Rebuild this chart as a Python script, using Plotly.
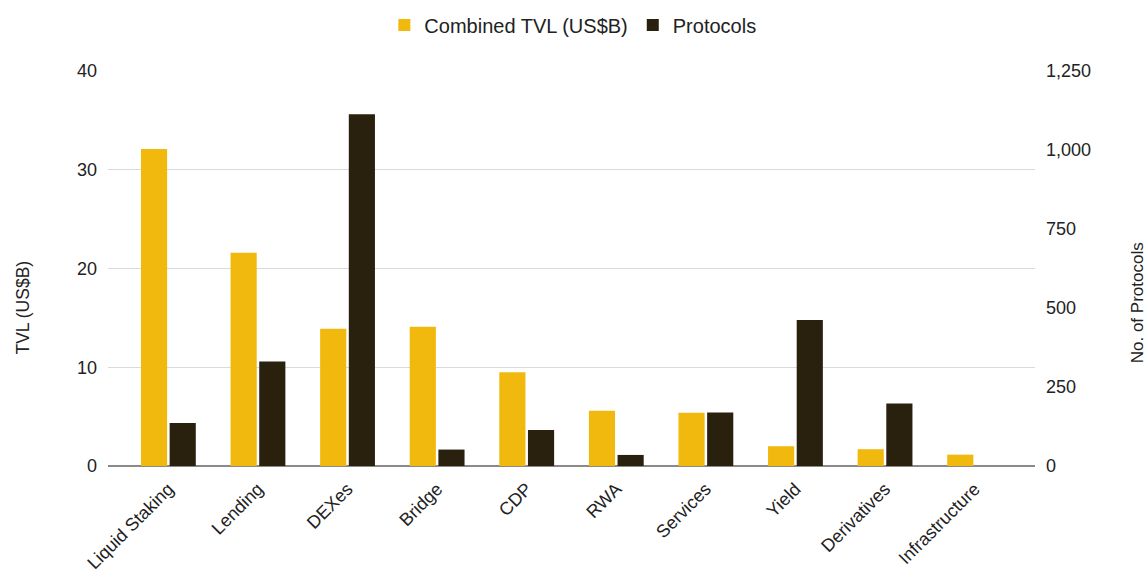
import plotly.graph_objects as go

categories = ["Liquid Staking", "Lending", "DEXes", "Bridge", "CDP", "RWA",
              "Services", "Yield", "Derivatives", "Infrastructure"]
tvl_values = [32.1, 21.6, 13.9, 14.1, 9.5, 5.6, 5.4, 2.0, 1.7, 1.15]
protocol_counts = [136, 331, 1113, 52, 114, 35, 169, 462, 198, 0]
left_ticks = [0, 10, 20, 30, 40]
right_ticks = [0, 250, 500, 750, 1000, 1250]

YELLOW = "#F1B80D"
DARK = "#29200D"
FONT = "Liberation Sans, Arial, sans-serif"
TXT = "#222222"

W, H = 1148, 575
L, R, T, B = 107.5, 1034.7, 71, 466

fig = go.Figure()
fig.add_trace(go.Bar(
    x=categories, y=tvl_values, name="Combined TVL (US$B)",
    marker=dict(color=YELLOW, line=dict(width=0)),
    width=0.292, offset=-0.306, yaxis="y",
))
fig.add_trace(go.Bar(
    x=categories, y=protocol_counts, name="Protocols",
    marker=dict(color=DARK, line=dict(width=0)),
    width=0.292, offset=0.014, yaxis="y2",
))

fig.update_layout(
    width=W, height=H,
    margin=dict(l=L, r=W - R, t=T, b=H - B, pad=0, autoexpand=False),
    plot_bgcolor="white", paper_bgcolor="white",
    font=dict(family=FONT, size=18, color=TXT),
    barmode="overlay",
    showlegend=True,
    legend=dict(
        orientation="h", xref="container", yref="container",
        x=0.499, xanchor="center", y=1 - 25 / H, yanchor="middle",
        font=dict(size=20, color=TXT), itemwidth=30,
        traceorder="normal",
    ),
    xaxis=dict(
        type="category", range=[-0.674, 9.674], automargin=False,
        tickangle=-45, tickfont=dict(size=18, color=TXT),
        showgrid=False, showline=False, zeroline=False, ticks="",
        ticklabelstandoff=8,
    ),
    yaxis=dict(
        range=[0, 40], tickvals=left_ticks, showgrid=True, automargin=False,
        gridcolor="#DADADA", gridwidth=1,
        zeroline=True, zerolinecolor="#8A8A8A", zerolinewidth=2,
        showline=False, ticks="", ticklabelstandoff=10,
        tickfont=dict(size=18, color=TXT),
    ),
    yaxis2=dict(
        range=[0, 1250], tickvals=right_ticks, tickformat=",", automargin=False,
        overlaying="y", side="right", showgrid=False, zeroline=False,
        showline=False, ticks="", ticklabelstandoff=10,
        tickfont=dict(size=18, color=TXT),
    ),
    annotations=[
        dict(text="TVL (US$B)", xref="paper", yref="paper",
             x=(22 - L) / (R - L), y=(B - 308) / (B - T),
             xanchor="center", yanchor="middle", textangle=-90,
             showarrow=False, font=dict(size=17.5, color=TXT)),
        dict(text="No. of Protocols", xref="paper", yref="paper",
             x=(1137 - L) / (R - L), y=(B - 303) / (B - T),
             xanchor="center", yanchor="middle", textangle=-90,
             showarrow=False, font=dict(size=17, color=TXT)),
    ],
)

fig.write_html(
    "out.html",
    config={"displayModeBar": False},
    post_script="document.body.style.margin='0';document.body.style.overflow='hidden';",
)
